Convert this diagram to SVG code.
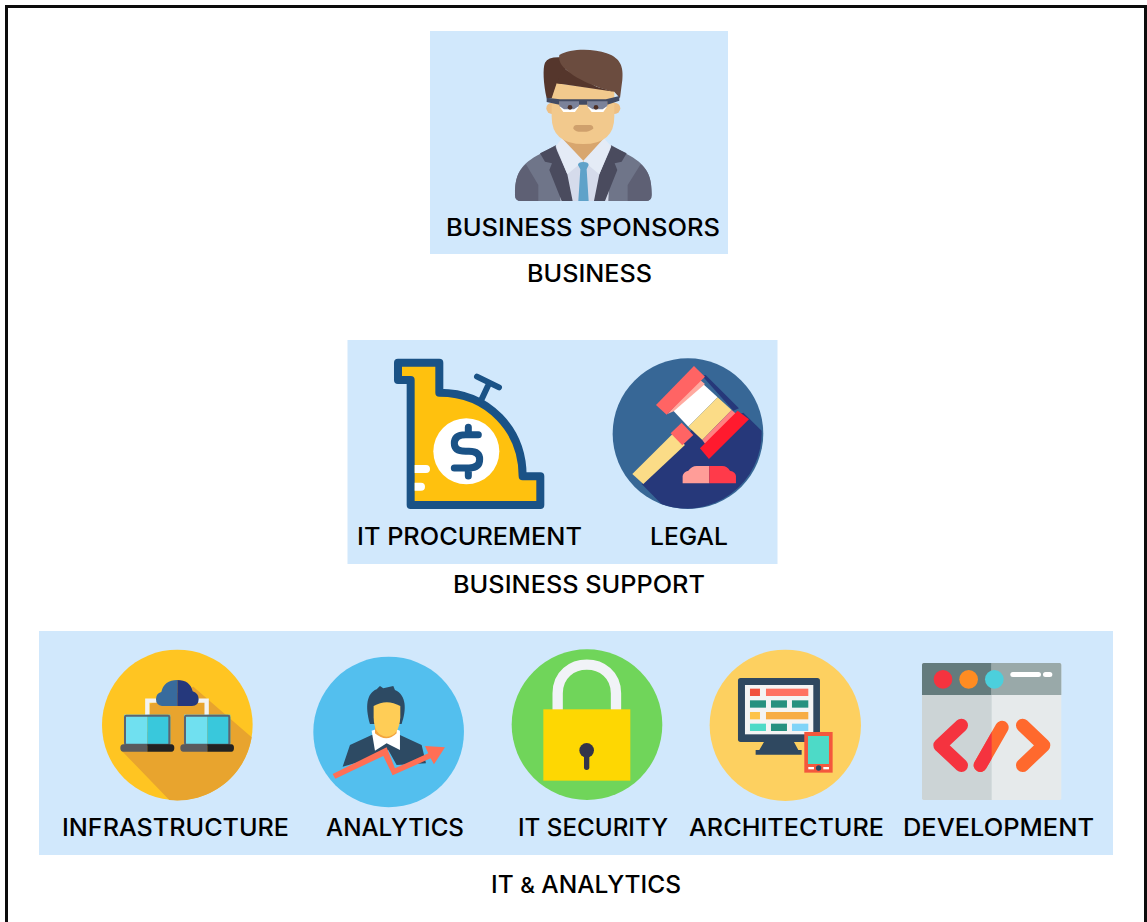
<svg xmlns="http://www.w3.org/2000/svg" width="1147" height="922" viewBox="0 0 1147 922">
<style>
text{font-family:"Inter","Liberation Sans",sans-serif;font-size:24px;font-weight:500;fill:#000}
.panel{fill:#d1e8fc}
</style>
<defs>
<clipPath id="slash-left"><rect x="96" y="69" width="209" height="411"/></clipPath>
</defs>
<rect width="1147" height="922" fill="#fff"/>
<path d="M6.500 922V6.500H1145.500V922" fill="none" stroke="#0c0c0c" stroke-width="3"/>
<rect class="panel" x="430" y="31" width="298" height="223"/>
<rect class="panel" x="347.500" y="340" width="430" height="224"/>
<rect class="panel" x="39" y="631" width="1074" height="224"/>

<g id="business-sponsors">
<g transform="translate(430 30) scale(.3333)">
<path d="M255 490C255 430 275 400 330 372L378 345H543L590 372C645 400 665 430 665 490V495Q665 513 647 513H273Q255 513 255 495Z" fill="#6f7589"/>
<path d="M255 495C255 450 262 425 288 403L325 465V513H273Q255 513 255 495ZM665 495C665 450 658 425 632 403L593 465V513H647Q665 513 665 495Z" fill="#5e6074"/>
<path d="M378 345H543L535 513H392Z" fill="#d5dbeb"/>
<path d="M375 348L330 370L345 395L366 400L358 420L395 513H428L412 433ZM545 348L590 370L575 395L554 400L562 420L525 513H492L508 433Z" fill="#4a4b5e"/>
<path d="M396 320H522V345L460 395L396 345Z" fill="#d8a66e"/>
<path d="M396 325L378 348L412 433L460 393L508 433L543 348L522 325L460 392Z" fill="#e4ebf6"/>
<path d="M444 405Q444 396 460 396Q476 396 476 405L470 418L476 513H445L451 418Z" fill="#5fa2c9"/>
<circle cx="366" cy="235" r="17" fill="#eebf83"/><circle cx="554" cy="235" r="17" fill="#eebf83"/>
<path d="M350 205C340 160 338 115 345 98Q355 80 392 82L420 150L385 170L370 205Z" fill="#55362c"/>
<path d="M365 205L380 160L553 183V260Q553 342 460 342Q365 342 365 260Z" fill="#f2c98d"/>
<path d="M430 296Q430 285 440 285H480Q490 285 490 296Q470 308 460 305Q440 308 430 296Z" fill="#cfa06c"/>
<path d="M380 160L400 115L500 170L553 185Z" fill="#55362c"/>
<path d="M388 75C420 55 490 55 530 70C575 85 580 115 577 150L570 205L553 185C500 175 420 140 395 105Q385 90 388 75Z" fill="#6b4c3f"/>
<path d="M390 222H445V232L435 246H400L390 232ZM474 222H530V232L520 246H485L474 232Z" fill="#fff"/>
<path d="M388 210H447V228L432 238H402L388 228ZM472 210H532V228L518 238H488L472 228Z" fill="#7b829a"/>
<circle cx="420" cy="232" r="7" fill="#4d2f24"/><circle cx="498" cy="232" r="7" fill="#4d2f24"/>
<path d="M350 203L390 208H528L568 198V212L532 224V214H472V224H447V214H388V224L350 216Z" fill="#434b63"/>
</g>
<text x="446" y="236" textLength="274" lengthAdjust="spacingAndGlyphs">BUSINESS SPONSORS</text>
</g>

<g id="business-label"><text x="527" y="282" textLength="125" lengthAdjust="spacingAndGlyphs">BUSINESS</text></g>

<g id="it-procurement">
<g transform="translate(345 340) scale(.3333)">
<path d="M159 68H283V158C430 158 533 270 533 409H586V495H197V120H159Z" fill="#ffc10e" stroke="#1a5286" stroke-width="24" stroke-linejoin="round"/>
<path d="M410 178L430 135M396 110L462 142" fill="none" stroke="#1a5286" stroke-width="18" stroke-linecap="round"/>
<circle cx="364" cy="334" r="99" fill="#fff"/>
<path d="M400 284H362Q328 284 328 310Q328 334 362 334H372Q404 334 404 358Q404 384 372 384H328M370 262V284M370 384V408" fill="none" stroke="#1a5286" stroke-width="21" stroke-linecap="round"/>
<path d="M209 375H243Q255 375 255 387Q255 399 243 399H209ZM209 428H228Q240 428 240 440Q240 452 228 452H209Z" fill="#fff"/>
</g>
<text x="357" y="545" textLength="225" lengthAdjust="spacingAndGlyphs">IT PROCUREMENT</text>
</g>

<g id="legal">
<g transform="translate(345 340) scale(.3333)">
<circle cx="1029" cy="281" r="226" fill="#376796"/>
<path d="M1195 218L1250 272A226 226 0 0 1 950 493L890 432L1040 270Z" fill="#26387a"/>
<path d="M862 402L985 280L1020 315L895 432Z" fill="#fbdc87"/>
<path d="M977 280L1010 248L1045 285L1012 316Z" fill="#ff6464"/>
<path d="M1072 108L1082 105L1182 205L1165 212Z" fill="#26387a"/>
<path d="M985 212L1072 130L1118 172L1030 260Z" fill="#fff"/>
<path d="M1030 260L1118 172L1160 210L1072 300Z" fill="#fbdc87"/>
<path d="M1072 300L1160 210L1178 226L1085 318Z" fill="#ff8080"/>
<path d="M968 222L1062 117L1080 132L986 214Z" fill="#ffaaa0"/>
<path d="M933 195L1047 78L1080 110L965 224Z" fill="#ff6464"/>
<path d="M1065 325L1178 212L1212 238L1092 357Z" fill="#ff1a2e"/>
<path d="M1013 430V408Q1015 396 1030 392Q1040 378 1055 378H1093V430Z" fill="#ff9d98"/>
<path d="M1093 378H1132Q1147 378 1155 392Q1172 396 1173 408V430H1093Z" fill="#ff3a4a"/>
</g>
<text x="650" y="545" textLength="78" lengthAdjust="spacingAndGlyphs">LEGAL</text>
</g>

<g id="business-support-label"><text x="453" y="593" textLength="252" lengthAdjust="spacingAndGlyphs">BUSINESS SUPPORT</text></g>

<g id="infrastructure">
<g transform="translate(40 630) scale(.3333)">
<circle cx="412" cy="285" r="226" fill="#ffc522"/>
<path d="M330 222L460 170L635 322A226 226 0 0 1 388 510L245 362L330 300Z" fill="#e8a42e"/>
<path d="M322 255V212H350M500 255V212H472" fill="none" stroke="#f3f3f3" stroke-width="13"/>
<path d="M366 228Q348 225 348 207Q348 190 364 186Q372 150 412 150V228Z" fill="#386b9d"/>
<path d="M412 150Q450 150 458 184Q476 190 476 207Q476 228 456 228H412Z" fill="#25387c"/>
<rect x="252" y="254" width="70" height="90" fill="#70e0f0"/><rect x="322" y="254" width="69" height="90" fill="#39c8dc"/>
<rect x="432" y="254" width="70" height="90" fill="#70e0f0"/><rect x="502" y="254" width="69" height="90" fill="#39c8dc"/>
<rect x="255" y="257" width="133" height="87" fill="none" stroke="#5b6572" stroke-width="6" rx="4"/>
<rect x="435" y="257" width="133" height="87" fill="none" stroke="#5b6572" stroke-width="6" rx="4"/>
<path d="M250 343H322V365H250Q241 365 241 354Q241 343 250 343ZM430 343H502V365H430Q421 365 421 354Q421 343 430 343Z" fill="#5a5a5c"/>
<path d="M322 343H394Q403 343 403 354Q403 365 394 365H322ZM502 343H574Q582 343 582 354Q582 365 574 365H502Z" fill="#222"/>
</g>
<text x="62" y="836" textLength="227" lengthAdjust="spacingAndGlyphs">INFRASTRUCTURE</text>
</g>

<g id="analytics">
<g transform="translate(40 630) scale(.3333)">
<circle cx="1046" cy="306" r="226" fill="#53bfee"/>
<path d="M908 410L930 345L995 315H1080L1145 345L1158 400L1070 405L1045 360L960 395Z" fill="#2d4a63"/>
<path d="M995 302L1012 296H1065L1080 302V360L1040 340L1005 362Z" fill="#fff"/>
<path d="M1005 270H1070V310Q1040 340 1005 310Z" fill="#f3a43e"/>
<path d="M990 282C975 230 980 190 1010 178L1020 168L1030 175L1060 168L1065 180C1100 195 1100 240 1085 282Z" fill="#2d4a63"/>
<path d="M1001 228Q1040 205 1081 228V262Q1078 318 1040 320Q1002 318 1001 262Z" fill="#ffcd56"/>
<path d="M878 432L1040 352L1065 415L1165 370L1155 348L1215 352L1182 403L1172 385L1058 436L1030 378L886 446Z" fill="#ff6f55"/>
</g>
<text x="326" y="836" textLength="138" lengthAdjust="spacingAndGlyphs">ANALYTICS</text>
</g>

<g id="it-security">
<g transform="translate(490 630) scale(.3333)">
<circle cx="291" cy="284" r="226" fill="#70d55a"/>
<path d="M203 245V190C203 75 378 75 378 190V245" fill="none" stroke="#f1f3f7" stroke-width="31"/>
<rect x="160" y="238" width="261" height="214" fill="#fed702"/>
<circle cx="290" cy="361" r="22" fill="#33334a"/><rect x="282" y="365" width="16" height="55" rx="8" fill="#33334a"/>
</g>
<text x="518" y="836" textLength="150" lengthAdjust="spacingAndGlyphs">IT SECURITY</text>
</g>

<g id="architecture">
<g transform="translate(490 630) scale(.3333)">
<circle cx="886" cy="286" r="227" fill="#fdd060"/>
<rect x="744" y="144" width="246" height="192" rx="8" fill="#2f4860"/>
<rect x="765" y="165" width="205" height="148" fill="#f4f4f4"/>
<path d="M822 336H912L925 360H935V374H797V360H808Z" fill="#2f4860"/>
<rect x="780" y="176" width="30" height="22" fill="#f1513c"/><rect x="828" y="176" width="127" height="22" fill="#ff7262"/>
<rect x="780" y="211" width="48" height="22" fill="#26917f"/><rect x="843" y="211" width="48" height="22" fill="#26917f"/><rect x="906" y="211" width="49" height="22" fill="#26917f"/>
<rect x="780" y="246" width="30" height="22" fill="#fdc348"/><rect x="828" y="246" width="127" height="22" fill="#f7ad45"/>
<rect x="780" y="281" width="48" height="22" fill="#4ddac7"/><rect x="843" y="281" width="48" height="22" fill="#26917f"/><rect x="906" y="281" width="49" height="22" fill="#80d4f8"/>
<rect x="943" y="306" width="85" height="122" fill="#f4573d"/>
<rect x="954" y="318" width="63" height="84" fill="#4ddac7"/>
<rect x="955" y="411" width="17" height="7" fill="#fff"/><rect x="1000" y="411" width="17" height="7" fill="#fff"/><circle cx="986" cy="414" r="8" fill="#2f4860"/>
</g>
<text x="689" y="836" textLength="195" lengthAdjust="spacingAndGlyphs">ARCHITECTURE</text>
</g>

<g id="development">
<g transform="translate(890 640) scale(.3333)">
<rect x="96" y="69" width="418" height="411" rx="5" fill="#e6eaeb"/>
<path d="M96 165H305V480H101Q96 480 96 475Z" fill="#ccd4d6"/>
<path d="M96 165V74Q96 69 101 69H305V165Z" fill="#647b7d"/>
<path d="M305 69H509Q514 69 514 74V165H305Z" fill="#99a9a9"/>
<circle cx="159" cy="118" r="28" fill="#f5333f"/><circle cx="236" cy="118" r="28" fill="#ff8c22"/><circle cx="313" cy="118" r="28" fill="#4ccfdc"/>
<rect x="361" y="96" width="92" height="15" rx="7.500" fill="#fff"/><rect x="459" y="96" width="28" height="15" rx="7.500" fill="#fff"/>
<path d="M214 256L150 316L214 376" fill="none" stroke="#f5333f" stroke-width="40" stroke-linecap="round" stroke-linejoin="round"/>
<path d="M398 256L461 316L398 376" fill="none" stroke="#ff692d" stroke-width="40" stroke-linecap="round" stroke-linejoin="round"/>
<path d="M336 262L271 376" fill="none" stroke="#ff692d" stroke-width="40" stroke-linecap="round"/>
<path d="M336 262L271 376" fill="none" stroke="#f5333f" stroke-width="40" stroke-linecap="round" clip-path="url(#slash-left)"/>
</g>
<text x="903" y="836" textLength="191" lengthAdjust="spacingAndGlyphs">DEVELOPMENT</text>
</g>

<g id="it-analytics-label"><text x="491" y="893" textLength="190" lengthAdjust="spacingAndGlyphs">IT <tspan font-size="22">&amp;</tspan> ANALYTICS</text></g>
<g id="connectors"></g>
</svg>
